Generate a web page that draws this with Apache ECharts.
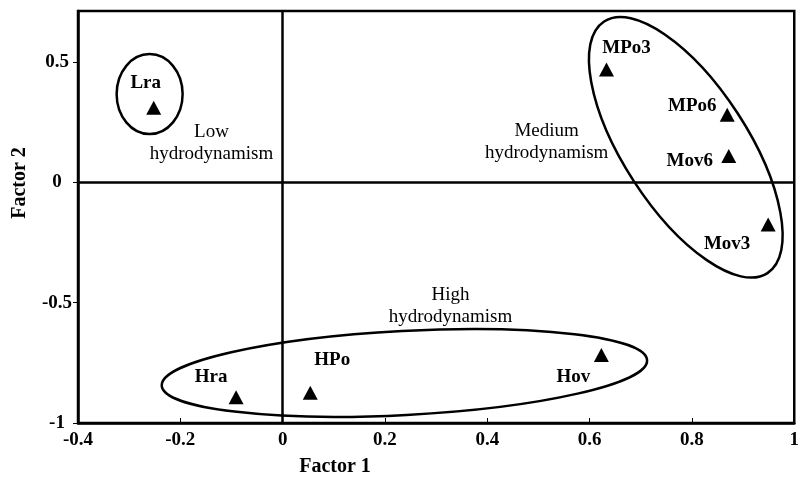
<!DOCTYPE html>
<html>
<head>
<meta charset="utf-8">
<script src="https://cdn.jsdelivr.net/npm/echarts@6/dist/echarts.min.js"></script>
<style>html,body{margin:0;padding:0;background:#fff;}#c{width:802px;height:477px;}</style>
</head>
<body>
<div id="c"></div>
<script>
// ---- data ----
const sites   = ['Lra', 'MPo3', 'MPo6', 'Mov6', 'Mov3', 'Hra', 'HPo', 'Hov'];
const factor1 = [-0.252, 0.633, 0.869, 0.872, 0.949, -0.091, 0.054, 0.623];
const factor2 = [0.31, 0.469, 0.281, 0.11, -0.175, -0.893, -0.874, -0.717];
const xTicks = [-0.4, -0.2, 0, 0.2, 0.4, 0.6, 0.8, 1];
const yTicks = [-1, -0.5, 0, 0.5];

// ---- presentation (label offsets in px, annotations) ----
const labelOffsets = {
  Lra: [-8, -25], MPo3: [20, -21], MPo6: [-35, -9], Mov6: [-39, 5],
  Mov3: [-41, 20], Hra: [-25, -20], HPo: [22, -33], Hov: [-28, 22]
};
const groupEllipses = [
  { center: [-0.260, 0.367], rx: 33, ry: 40, angle: 0 },
  { center: [0.788, 0.146], rx: 150, ry: 62, angle: -57 },
  { center: [0.238, -0.792], rx: 243, ry: 42, angle: 3 }
];
const groupTexts = [
  { text: 'Low\nhydrodynamism', at: [-0.139, 0.162] },
  { text: 'Medium\nhydrodynamism', at: [0.516, 0.167] },
  { text: 'High\nhydrodynamism', at: [0.328, -0.512] }
];

const serif = '"Liberation Serif", "Times New Roman", serif';
const chart = echarts.init(document.getElementById('c'));
const points = sites.map((s, i) => ({
  name: s, value: [factor1[i], factor2[i]],
  label: { offset: labelOffsets[s] }
}));

chart.setOption({
  animation: false,
  backgroundColor: '#fff',
  grid: { left: 78, right: 3, top: 11, bottom: 54, show: true, borderColor: '#000', borderWidth: 2.5 },
  xAxis: {
    type: 'value', min: -0.4, max: 1, interval: 0.2,
    axisLine: { show: true, onZero: false, lineStyle: { color: '#000', width: 2.5 } },
    axisTick: { show: true, inside: true, length: 5, customValues: xTicks, lineStyle: { color: '#000', width: 1 } },
    axisLabel: {
      color: '#000', fontFamily: serif, fontWeight: 'bold', fontSize: 19, margin: 8,
      customValues: xTicks,
      formatter: v => String(Math.round(v * 10) / 10)
    },
    splitLine: { show: false }
  },
  yAxis: {
    type: 'value', min: -1, max: 0.7125, interval: 0.5,
    axisLine: { show: true, onZero: false, lineStyle: { color: '#000', width: 2.5 } },
    axisTick: { show: true, length: 5, customValues: yTicks, lineStyle: { color: '#000', width: 1 } },
    axisLabel: {
      color: '#000', fontFamily: serif, fontWeight: 'bold', fontSize: 19, margin: 21, align: 'center',
      customValues: yTicks,
      formatter: v => String(Math.round(v * 10) / 10)
    },
    splitLine: { show: false }
  },
  series: [{
    type: 'scatter',
    data: points,
    symbol: 'triangle',
    symbolSize: [15, 14],
    itemStyle: { color: '#000', opacity: 1 },
    label: {
      show: true, position: 'inside', formatter: '{b}', opacity: 1,
      color: '#000', fontFamily: serif, fontWeight: 'bold', fontSize: 19
    },
    emphasis: { disabled: true },
    markLine: {
      silent: true, symbol: ['none', 'none'],
      label: { show: false },
      lineStyle: { color: '#000', width: 2.5, type: 'solid', opacity: 1 },
      data: [{ xAxis: 0 }, { yAxis: 0 }]
    },
    z: 3
  }]
});

const px = p => chart.convertToPixel({ gridIndex: 0 }, p);
const graphics = [];
groupEllipses.forEach(e => {
  const c = px(e.center);
  graphics.push({
    type: 'ellipse', x: c[0], y: c[1], rotation: e.angle * Math.PI / 180, silent: true, z: 10,
    shape: { cx: 0, cy: 0, rx: e.rx, ry: e.ry },
    style: { fill: 'none', stroke: '#000', lineWidth: 2.5 }
  });
});
groupTexts.forEach(t => {
  const c = px(t.at);
  graphics.push({
    type: 'text', x: c[0], y: c[1], silent: true, z: 10,
    style: { text: t.text, fontFamily: serif, fontSize: 19, lineHeight: 22, fill: '#000', align: 'center', verticalAlign: 'middle' }
  });
});
graphics.push({
  type: 'text', x: 335, y: 467, silent: true,
  style: { text: 'Factor 1', fontFamily: serif, fontWeight: 'bold', fontSize: 20, fill: '#000', align: 'center', verticalAlign: 'middle' }
});
graphics.push({
  type: 'text', x: 20, y: 183, rotation: Math.PI / 2, silent: true,
  style: { text: 'Factor 2', fontFamily: serif, fontWeight: 'bold', fontSize: 20, fill: '#000', align: 'center', verticalAlign: 'middle' }
});
chart.setOption({ graphic: graphics });
</script>
</body>
</html>
